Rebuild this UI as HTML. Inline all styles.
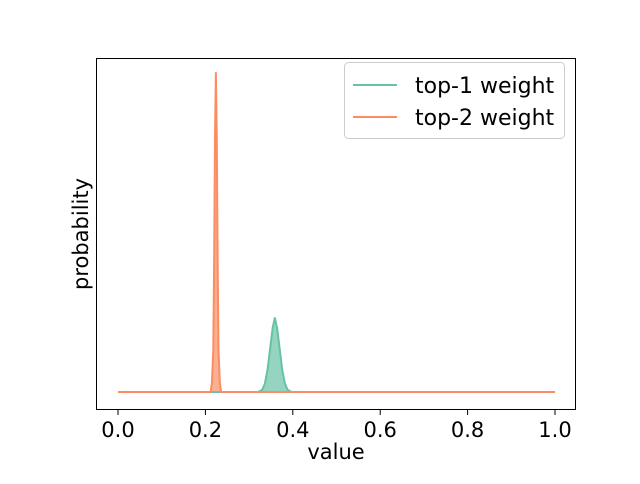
<!DOCTYPE html>
<html><head><meta charset="utf-8"><style>
body{margin:0;background:#fff;font-family:"DejaVu Sans",sans-serif}
</style></head><body>
<svg id="chart" width="640" height="480" xmlns="http://www.w3.org/2000/svg" font-family="DejaVu Sans, sans-serif">
<rect width="640" height="480" fill="#fff"/>
<g id="plot"></g>
<rect x="96.5" y="58.5" width="479" height="351" fill="none" stroke="#000" stroke-width="1"/>
<g id="xticks"></g>
<text x="336" y="459" font-size="21" text-anchor="middle">value</text>
<text transform="translate(88,234) rotate(-90)" font-size="21" text-anchor="middle">probability</text>
<g>
<rect x="344.5" y="62.5" width="220" height="76" rx="4" fill="#fff" fill-opacity="0.8" stroke="#ccc"/>
<g><line x1="353" y1="85" x2="397" y2="85" stroke="#66c2a5" stroke-width="2"/><text x="415" y="93" font-size="22">top-1 weight</text></g>
<g><line x1="353" y1="117" x2="397" y2="117" stroke="#fc8d62" stroke-width="2"/><text x="415" y="125" font-size="22">top-2 weight</text></g>
</g>
</svg>
<script>
const xTicks=[0,0.2,0.4,0.6,0.8,1.0];
const xTickLabels=["0.0","0.2","0.4","0.6","0.8","1.0"];
const top1X=[0,0.321,0.330,0.336,0.342,0.348,0.354,0.359,0.364,0.370,0.376,0.382,0.388,0.397,1];
const top1Y=[0,0,0.007,0.026,0.068,0.135,0.202,0.232,0.202,0.135,0.068,0.026,0.007,0,0];
const top2X=[0,0.212,0.215,0.218,0.220,0.222,0.224,0.226,0.228,0.230,0.233,0.236,1];
const top2Y=[0,0,0.03,0.13,0.41,0.8,1.0,0.8,0.41,0.13,0.03,0,0];
const NS="http://www.w3.org/2000/svg";
const X0=118,X1=555,Y0=392,YPEAK=73;
const xs=v=>X0+v*(X1-X0);
const ymax=Math.max(...top2Y,...top1Y);
const ys=v=>Y0-v/ymax*(Y0-YPEAK);
const B=410;
const plot=document.getElementById('plot');
function series(X,Y,color,name){
  const pts=X.map((x,i)=>xs(x).toFixed(2)+','+ys(Y[i]).toFixed(2));
  const f=document.createElementNS(NS,'polygon');
  f.setAttribute('points',pts.join(' ')+' '+xs(X[X.length-1])+','+ys(0)+' '+xs(X[0])+','+ys(0));
  f.setAttribute('fill',color);f.setAttribute('fill-opacity','0.7');
  
  
  plot.appendChild(f);
  const p=document.createElementNS(NS,'polyline');
  p.setAttribute('points',pts.join(' '));
  p.setAttribute('fill','none');p.setAttribute('stroke',color);p.setAttribute('stroke-width','2');p.setAttribute('stroke-linejoin','round');
  
  
  plot.appendChild(p);
}
series(top1X,top1Y,'#66c2a5','top-1-weight');
series(top2X,top2Y,'#fc8d62','top-2-weight');
const xt=document.getElementById('xticks');
xTicks.forEach((v,i)=>{
  const l=document.createElementNS(NS,'line');
  l.setAttribute('x1',xs(v));l.setAttribute('x2',xs(v));l.setAttribute('y1',B);l.setAttribute('y2',B+5);l.setAttribute('stroke','#000');
  
  
  xt.appendChild(l);
  const t=document.createElementNS(NS,'text');
  t.setAttribute('x',xs(v));t.setAttribute('y',B+27);t.setAttribute('font-size','21');t.setAttribute('text-anchor','middle');
  t.textContent=xTickLabels[i];
  
  
  xt.appendChild(t);
});
</script>
</body></html>
